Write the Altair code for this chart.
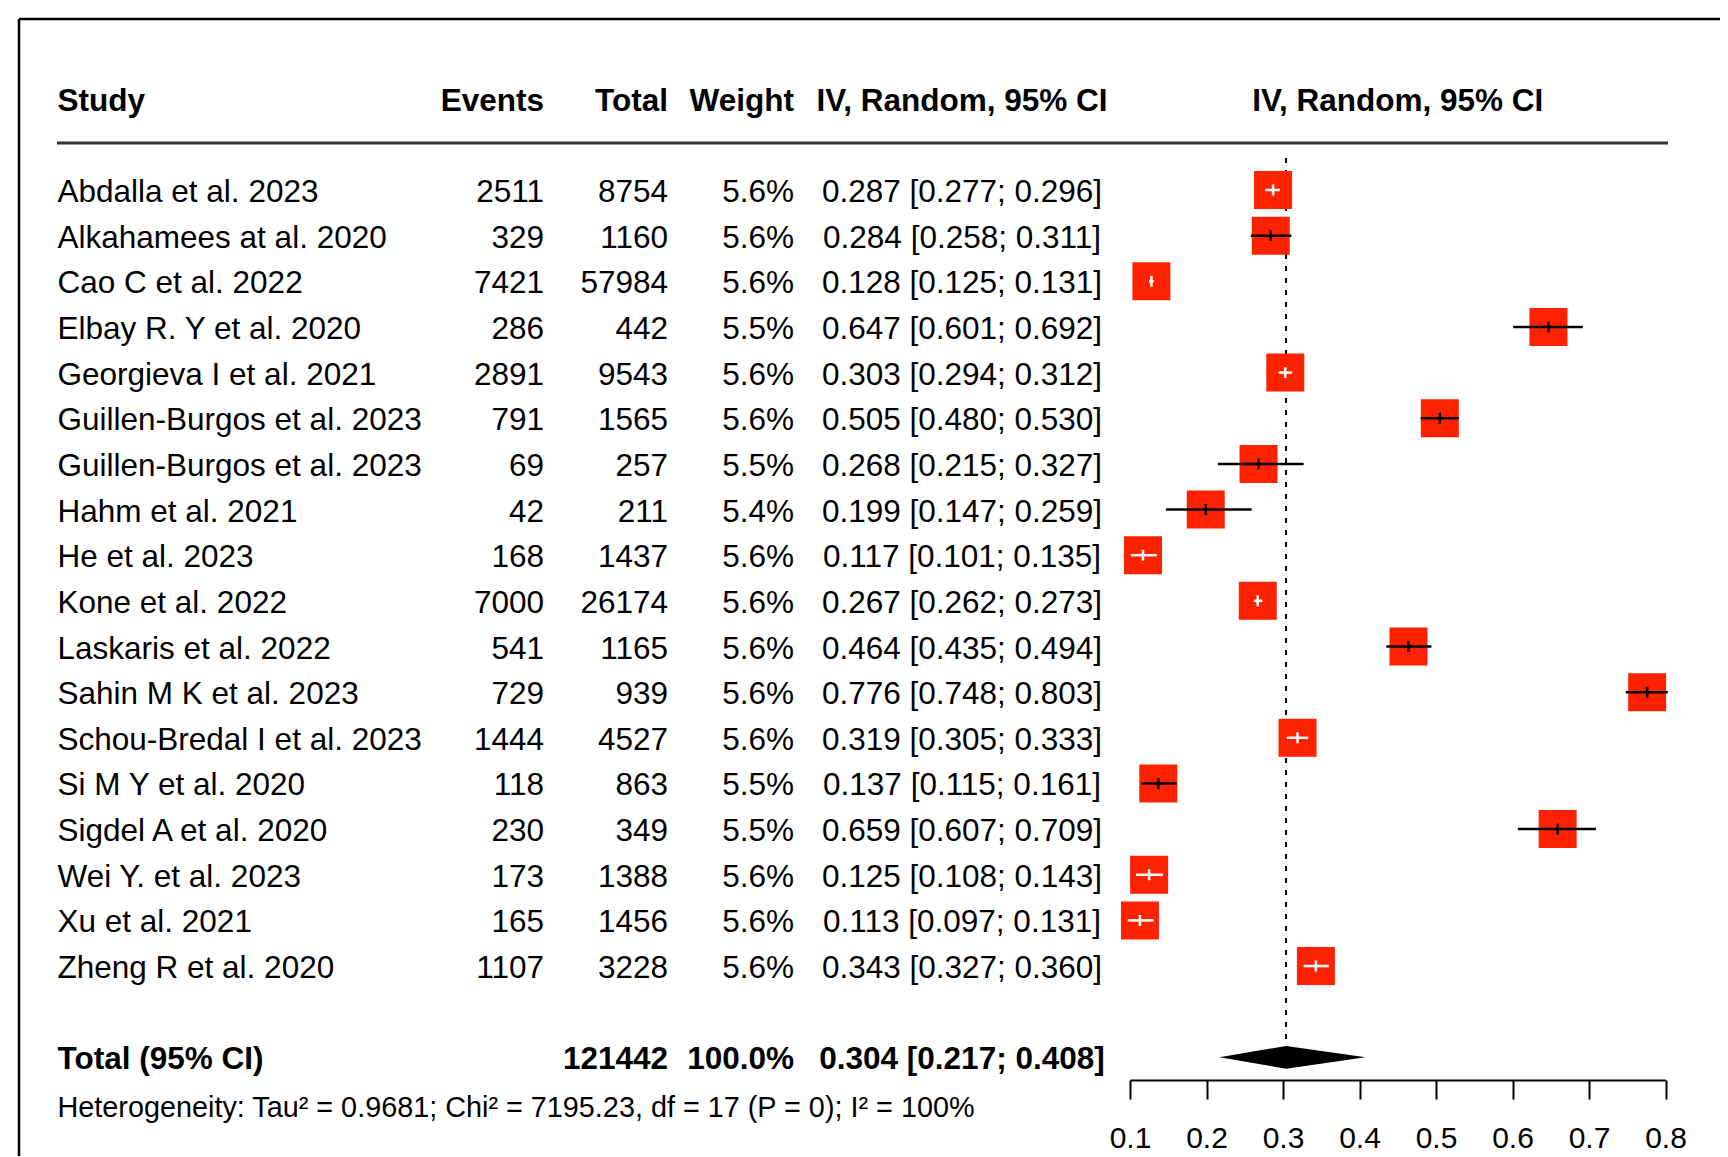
import altair as alt
import pandas as pd

# ---------------- data ----------------
studies = [
    "Abdalla et al. 2023", "Alkahamees at al. 2020", "Cao C et al. 2022",
    "Elbay R. Y et al. 2020", "Georgieva I et al. 2021", "Guillen-Burgos et al. 2023",
    "Guillen-Burgos et al. 2023", "Hahm et al. 2021", "He et al. 2023",
    "Kone et al. 2022", "Laskaris et al. 2022", "Sahin M K et al. 2023",
    "Schou-Bredal I et al. 2023", "Si M Y et al. 2020", "Sigdel A et al. 2020",
    "Wei Y. et al. 2023", "Xu et al. 2021", "Zheng R et al. 2020",
]
events = [2511, 329, 7421, 286, 2891, 791, 69, 42, 168, 7000, 541, 729, 1444, 118, 230, 173, 165, 1107]
totals = [8754, 1160, 57984, 442, 9543, 1565, 257, 211, 1437, 26174, 1165, 939, 4527, 863, 349, 1388, 1456, 3228]
weights = [5.6, 5.6, 5.6, 5.5, 5.6, 5.6, 5.5, 5.4, 5.6, 5.6, 5.6, 5.6, 5.6, 5.5, 5.5, 5.6, 5.6, 5.6]
est = [0.287, 0.284, 0.128, 0.647, 0.303, 0.505, 0.268, 0.199, 0.117, 0.267, 0.464, 0.776, 0.319, 0.137, 0.659, 0.125, 0.113, 0.343]
lower = [0.277, 0.258, 0.125, 0.601, 0.294, 0.480, 0.215, 0.147, 0.101, 0.262, 0.435, 0.748, 0.305, 0.115, 0.607, 0.108, 0.097, 0.327]
upper = [0.296, 0.311, 0.131, 0.692, 0.312, 0.530, 0.327, 0.259, 0.135, 0.273, 0.494, 0.803, 0.333, 0.161, 0.709, 0.143, 0.131, 0.360]

pooled_est = 0.304
pooled_lower = 0.217
pooled_upper = 0.408
pooled_total = 121442
pooled_weight = 100.0
het_text = "Heterogeneity: Tau\u00b2 = 0.9681; Chi\u00b2 = 7195.23, df = 17 (P = 0); I\u00b2 = 100%"
x_ticks = [0.1, 0.2, 0.3, 0.4, 0.5, 0.6, 0.7, 0.8]

# ---------------- styling / layout ----------------
FONT = "Liberation Sans"
FS = 31.5
DY = 3
RED = "#ff2200"
TOTAL_ROW = len(studies) + 1
HALF_BOX = 0.021  # CI fully within the box -> drawn white

df = pd.DataFrame({
    "row": list(range(len(studies))),
    "study": studies,
    "events": [str(e) for e in events],
    "total": [str(t) for t in totals],
    "weight": [f"{w:.1f}%" for w in weights],
    "est": est,
    "lo": lower,
    "hi": upper,
})
df["ci"] = [f"{e:.3f} [{l:.3f}; {u:.3f}]" for e, l, u in zip(est, lower, upper)]
df["inside"] = [("in" if (e - l) < HALF_BOX and (u - e) < HALF_BOX else "out")
                for e, l, u in zip(est, lower, upper)]
df["t0"] = df["row"] - 0.12
df["t1"] = df["row"] + 0.12

xscale = alt.Scale(domain=[0.1, 0.8], range=[1122, 1657.5], nice=False, zero=False)
yscale = alt.Scale(domain=[-2, 20], range=[90.7, 1095.0], nice=False, zero=False)

Y = alt.Y("row:Q", scale=yscale, axis=None)
one = pd.DataFrame({"a": [0]})

layers = []

# frame (top and left border)
layers.append(alt.Chart(one).mark_rule(color="black", strokeWidth=2.5).encode(
    x=alt.value(11), y=alt.value(11), y2=alt.value(1148)))
layers.append(alt.Chart(one).mark_rule(color="black", strokeWidth=2.5).encode(
    x=alt.value(11), x2=alt.value(1712), y=alt.value(11)))

# header line
layers.append(alt.Chart(one).mark_rule(color="#333333", strokeWidth=3).encode(
    x=alt.value(49), x2=alt.value(1660),
    y=alt.Y(datum=-1.03, type="quantitative", scale=yscale, axis=None)))

# dotted reference line at pooled estimate
ref = pd.DataFrame({"x": [pooled_est], "y0": [-0.7], "y1": [TOTAL_ROW - 0.25]})
layers.append(alt.Chart(ref).mark_rule(color="black", strokeWidth=2, strokeDash=[5, 7]).encode(
    x=alt.X("x:Q", scale=xscale),
    y=alt.Y("y0:Q", scale=yscale, axis=None), y2="y1:Q"))

# squares
layers.append(alt.Chart(df).mark_square(size=1444, color=RED, opacity=1, filled=True).encode(
    x=alt.X("est:Q", scale=xscale,
            axis=alt.Axis(values=x_ticks, format=".1f", title=None, grid=False,
                          domainColor="black", domainWidth=2, tickColor="black",
                          tickWidth=2, tickSize=19, labelFont=FONT, labelFontSize=30,
                          labelColor="black", labelPadding=24, labelFlush=False,
                          labelOverlap=False)),
    y=Y))

ci_color = alt.Color("inside:N", scale=alt.Scale(domain=["in", "out"], range=["white", "black"]), legend=None)

# CI lines
layers.append(alt.Chart(df).mark_rule(strokeWidth=2.5).encode(
    x=alt.X("lo:Q", scale=xscale), x2="hi:Q", y=Y, color=ci_color))
# centre ticks
layers.append(alt.Chart(df).mark_rule(strokeWidth=2.5).encode(
    x=alt.X("est:Q", scale=xscale),
    y=alt.Y("t0:Q", scale=yscale, axis=None), y2="t1:Q", color=ci_color))

# diamond
dia = pd.DataFrame({
    "x": [pooled_lower, pooled_est, pooled_upper],
    "y0": [TOTAL_ROW, TOTAL_ROW - 0.25, TOTAL_ROW],
    "y1": [TOTAL_ROW, TOTAL_ROW + 0.25, TOTAL_ROW],
})
layers.append(alt.Chart(dia).mark_area(color="black", orient="vertical", opacity=1).encode(
    x=alt.X("x:Q", scale=xscale),
    y=alt.Y("y0:Q", scale=yscale, axis=None), y2="y1:Q"))


def col_text(field, xpos, align, weight="normal"):
    return alt.Chart(df).mark_text(align=align, baseline="middle", font=FONT, fontSize=FS,
                                   fontWeight=weight, color="black", dy=DY).encode(
        x=alt.value(xpos), y=Y, text=f"{field}:N")


layers.append(col_text("study", 49.5, "left"))
layers.append(col_text("events", 536, "right"))
layers.append(col_text("total", 660, "right"))
layers.append(col_text("weight", 786, "right"))
layers.append(col_text("ci", 954, "center"))


def single_text(txt, row, xenc, align, weight="normal", size=FS):
    d = pd.DataFrame({"row": [row], "t": [txt]})
    return alt.Chart(d).mark_text(align=align, baseline="middle", font=FONT, fontSize=size,
                                  fontWeight=weight, color="black", dy=DY).encode(
        x=xenc, y=Y, text="t:N")


# headers
layers.append(single_text("Study", -2, alt.value(49.5), "left", "bold"))
layers.append(single_text("Events", -2, alt.value(536), "right", "bold"))
layers.append(single_text("Total", -2, alt.value(660), "right", "bold"))
layers.append(single_text("Weight", -2, alt.value(786), "right", "bold"))
layers.append(single_text("IV, Random, 95% CI", -2, alt.value(954), "center", "bold"))
layers.append(single_text("IV, Random, 95% CI", -2,
                          alt.X(datum=0.45, type="quantitative", scale=xscale), "center", "bold"))

# total row
layers.append(single_text("Total (95% CI)", TOTAL_ROW, alt.value(49.5), "left", "bold"))
layers.append(single_text(str(pooled_total), TOTAL_ROW, alt.value(660), "right", "bold"))
layers.append(single_text(f"{pooled_weight:.1f}%", TOTAL_ROW, alt.value(786), "right", "bold"))
layers.append(single_text(f"{pooled_est:.3f} [{pooled_lower:.3f}; {pooled_upper:.3f}]",
                          TOTAL_ROW, alt.value(954), "center", "bold"))

# heterogeneity
layers.append(single_text(het_text, TOTAL_ROW + 1.05, alt.value(49.5), "left", size=28.8))

chart = alt.layer(*layers).properties(
    width=1712, height=1072,
    padding={"left": 0, "top": 0, "right": 0, "bottom": 76},
    autosize=alt.AutoSizeParams(type="none"),
    background="white",
).configure_view(stroke=None)

chart.save("out.html", embed_options={"renderer": "svg", "actions": False})
